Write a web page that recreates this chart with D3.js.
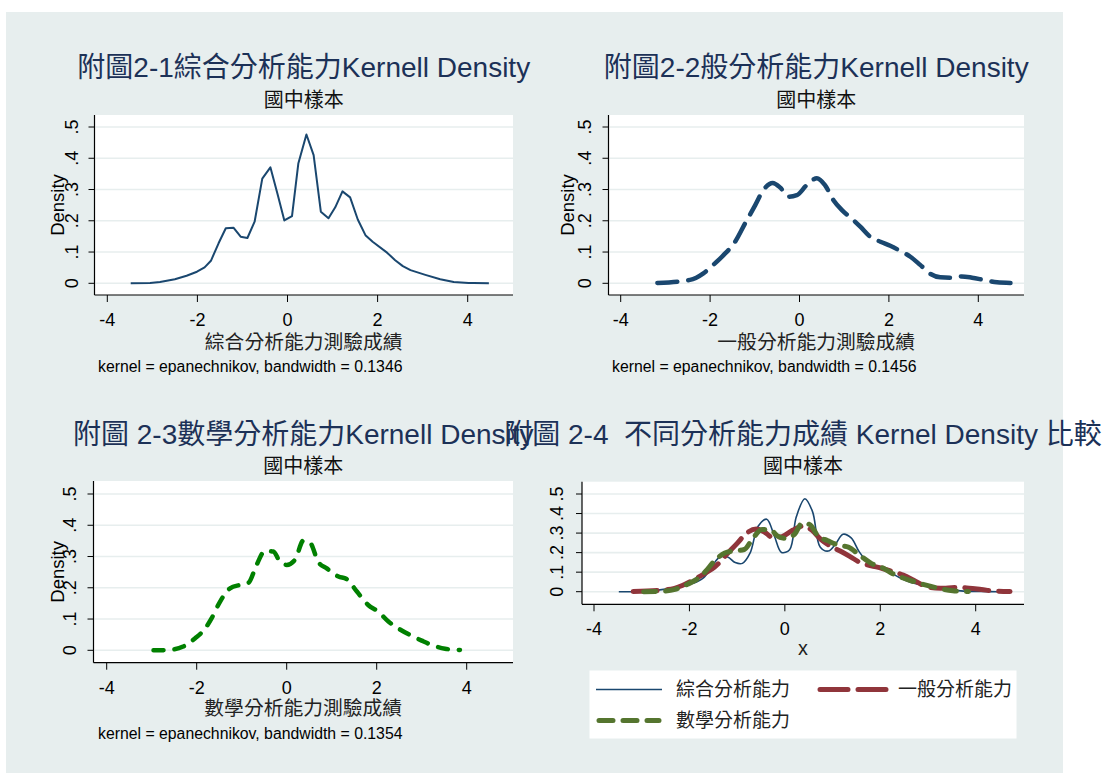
<!DOCTYPE html>
<html><head><meta charset="utf-8">
<script src="https://cdn.jsdelivr.net/npm/d3@7"></script>
<style>
html,body{margin:0;padding:0;background:#fff;}
text{font-family:"Liberation Sans","Noto Sans CJK TC",Arial,sans-serif;white-space:pre;}
</style></head>
<body>
<svg id="c" width="1104" height="773"></svg>
<script>
// ---------- data ----------
const compX = [-3.48,-3.05,-2.83,-2.50,-2.24,-2.01,-1.84,-1.70,-1.53,-1.37,-1.20,-1.04,-0.89,-0.73,-0.56,-0.38,-0.22,-0.07,0.10,0.24,0.42,0.58,0.74,0.91,1.06,1.22,1.39,1.56,1.73,1.89,2.21,2.39,2.56,2.73,3.06,3.39,3.69,4.02,4.13,4.47];
const compY = [0.000,0.001,0.004,0.013,0.024,0.037,0.051,0.072,0.128,0.176,0.178,0.149,0.145,0.197,0.335,0.371,0.285,0.201,0.215,0.383,0.476,0.410,0.229,0.208,0.243,0.294,0.275,0.204,0.154,0.133,0.098,0.074,0.055,0.042,0.027,0.013,0.004,0.001,0.001,0.000];

const genX = [-3.18,-2.45,-2.15,-1.93,-1.70,-1.44,-1.22,-0.99,-0.81,-0.60,-0.43,-0.25,-0.06,0.16,0.39,0.57,0.76,0.95,1.17,1.36,1.58,1.81,2.03,2.25,2.48,2.70,2.93,3.15,3.37,3.63,3.86,4.12,4.42,4.72];
const genY = [0.001,0.011,0.032,0.059,0.090,0.133,0.191,0.250,0.298,0.321,0.306,0.277,0.282,0.314,0.336,0.314,0.266,0.234,0.207,0.181,0.149,0.133,0.120,0.104,0.085,0.059,0.030,0.019,0.018,0.022,0.018,0.011,0.003,0.001];

const mathX = [-2.96,-2.63,-2.30,-2.04,-1.81,-1.67,-1.48,-1.26,-1.04,-0.85,-0.67,-0.48,-0.30,-0.15,0.00,0.19,0.37,0.52,0.70,0.89,1.15,1.33,1.56,1.81,2.04,2.26,2.48,2.74,3.00,3.26,3.52,3.85];
const mathY = [0.000,0.001,0.012,0.038,0.070,0.102,0.156,0.198,0.209,0.216,0.273,0.318,0.316,0.284,0.273,0.291,0.351,0.344,0.283,0.262,0.236,0.228,0.188,0.145,0.123,0.092,0.070,0.049,0.031,0.015,0.005,0.001];

const xTicks = [-4,-2,0,2,4];
const yTicks = [0,0.1,0.2,0.3,0.4,0.5];
const yTickLabels = ["0",".1",".2",".3",".4",".5"];
const seriesNames = ["綜合分析能力","一般分析能力","數學分析能力"];
const titles = ["附圖2-1綜合分析能力Kernell Density","附圖2-2般分析能力Kernell Density","附圖 2-3數學分析能力Kernell Density","附圖 2-4  不同分析能力成績 Kernel Density 比較"];
const subtitle = "國中樣本";
const xTitles = ["綜合分析能力測驗成績","一般分析能力測驗成績","數學分析能力測驗成績","x"];
const notes = ["kernel = epanechnikov, bandwidth = 0.1346","kernel = epanechnikov, bandwidth = 0.1456","kernel = epanechnikov, bandwidth = 0.1354",null];

// ---------- drawing ----------
const svg = d3.select("#c");
svg.append("rect").attr("x",6).attr("y",12).attr("width",1057).attr("height",761).attr("fill","#e7eeee");

const pts = (xs,ys)=>xs.map((x,i)=>[x,ys[i]]);
const NAVY="#1a476f", MAROON="#90353b", FGREEN="#55752f", GREEN="#008000";

function panel(o){
  const g = svg.append("g");
  const x = d3.scaleLinear().domain([-4,4]).range([o.xm4,o.x4]);
  const y = d3.scaleLinear().domain([0,0.5]).range([o.y0,o.y5]);
  g.append("rect").attr("x",o.left).attr("y",o.top).attr("width",o.right-o.left).attr("height",o.bottom-o.top).attr("fill","#fff");
  g.selectAll(".grid").data(yTicks).join("line")
    .attr("x1",o.left+1).attr("x2",o.right).attr("y1",d=>y(d)).attr("y2",d=>y(d))
    .attr("stroke","#e7eeee").attr("stroke-width",1.6);
  g.append("line").attr("x1",o.left).attr("x2",o.left).attr("y1",o.top).attr("y2",o.bottom).attr("stroke","#000").attr("stroke-width",1.2);
  g.append("line").attr("x1",o.left).attr("x2",o.right).attr("y1",o.bottom).attr("y2",o.bottom).attr("stroke","#000").attr("stroke-width",1.2);
  g.selectAll(".yt").data(yTicks).join("line")
    .attr("x1",o.left-6).attr("x2",o.left).attr("y1",d=>y(d)).attr("y2",d=>y(d)).attr("stroke","#000").attr("stroke-width",1);
  g.selectAll(".yl").data(yTicks).join("text")
    .attr("transform",d=>`translate(${o.ylx},${y(d)}) rotate(-90)`)
    .attr("text-anchor","middle").attr("dy","0.36em").attr("font-size",18).attr("fill","#000")
    .text((d,i)=>yTickLabels[i]);
  if(o.ytitle){
    g.append("text").attr("transform",`translate(${o.ytx},${(o.top+o.bottom)/2}) rotate(-90)`)
      .attr("text-anchor","middle").attr("dy","0.36em").attr("font-size",18.5).text("Density");
  }
  g.selectAll(".xt").data(xTicks).join("line")
    .attr("x1",d=>x(d)).attr("x2",d=>x(d)).attr("y1",o.bottom).attr("y2",o.bottom+7).attr("stroke","#000").attr("stroke-width",1);
  g.selectAll(".xl").data(xTicks).join("text")
    .attr("x",d=>x(d)).attr("y",o.xly).attr("text-anchor","middle").attr("dy","0.36em").attr("font-size",18)
    .text(d=>d<0?"-"+Math.abs(d):String(d));
  g.append("text").attr("x",(o.left+o.right)/2).attr("y",o.xty).attr("text-anchor","middle").attr("dy","0.36em")
    .attr("font-size",19.8).attr("fill","#222").text(o.xtitle);
  g.append("text").attr("x",(o.left+o.right)/2).attr("y",o.ty).attr("text-anchor","middle")
    .attr("font-size",28).attr("fill","#1c3157").text(o.title);
  g.append("text").attr("x",(o.left+o.right)/2).attr("y",o.sty).attr("text-anchor","middle")
    .attr("font-size",20).attr("fill","#111").text(subtitle);
  if(o.note){
    g.append("text").attr("x",o.notex).attr("y",o.notey).attr("dy","0.36em").attr("font-size",15.8).attr("fill","#000").text(o.note);
  }
  o.series.forEach(s=>{
    const line = d3.line().x(d=>x(d[0])).y(d=>y(d[1])).curve(s.curve||d3.curveLinear);
    g.append("path").attr("d",line(s.data)).attr("fill","none").attr("stroke",s.color)
      .attr("stroke-width",s.w).attr("stroke-dasharray",s.dash||null)
      .attr("stroke-linecap",s.dash?"round":"butt").attr("stroke-linejoin","round");
  });
  return g;
}

panel({left:94.5,right:513,top:115,bottom:295,xm4:107.3,x4:467.7,y0:283.3,y5:127,ylx:72,ytx:57,ytitle:true,
  xly:320,xty:342,ty:77,sty:107,title:titles[0],xtitle:xTitles[0],note:notes[0],notex:98,notey:366,
  series:[{data:pts(compX,compY),color:NAVY,w:2}]});
panel({left:608.5,right:1024,top:115,bottom:295,xm4:620.7,x4:978.3,y0:283.3,y5:127,ylx:585,ytx:567,ytitle:true,
  xly:320,xty:342,ty:77,sty:107,title:titles[1],xtitle:xTitles[1],note:notes[1],notex:612,notey:366,
  series:[{data:pts(genX,genY),color:NAVY,w:4.5,dash:"20,11",curve:d3.curveMonotoneX}]});
panel({left:93.5,right:513,top:481,bottom:662.7,xm4:106.7,x4:466.7,y0:650.3,y5:494,ylx:70,ytx:57,ytitle:true,
  xly:688,xty:708,ty:444,sty:473,title:titles[2],xtitle:xTitles[2],note:notes[2],notex:98,notey:733,
  series:[{data:pts(mathX,mathY),color:GREEN,w:4.5,dash:"10,11",curve:d3.curveMonotoneX}]});
panel({left:582,right:1024,top:481.7,bottom:604.3,xm4:594,x4:975.7,y0:591.7,y5:494,ylx:557,ytitle:false,
  xly:629,xty:648,ty:444,sty:473,title:titles[3],xtitle:xTitles[3],note:null,
  series:[{data:pts(compX,compY),color:NAVY,w:1.6,curve:d3.curveCatmullRom},
          {data:pts(genX,genY),color:MAROON,w:5,dash:"24,10",curve:d3.curveMonotoneX},
          {data:pts(mathX,mathY),color:FGREEN,w:5,dash:"12,10",curve:d3.curveMonotoneX}]});

// legend
const lg = svg.append("g");
lg.append("rect").attr("x",589.5).attr("y",670.5).attr("width",427).attr("height",68).attr("fill","#fff");
const legItems = [
  {name:seriesNames[0],color:NAVY,w:1.6,dash:null,x:596,y:689.5,len:66,tx:676},
  {name:seriesNames[1],color:MAROON,w:5,dash:"28,10",x:820,y:689.5,len:66,tx:898},
  {name:seriesNames[2],color:FGREEN,w:5,dash:"14,10",x:599,y:720.5,len:60,tx:676}
];
legItems.forEach(it=>{
  lg.append("line").attr("x1",it.x).attr("x2",it.x+it.len).attr("y1",it.y).attr("y2",it.y)
    .attr("stroke",it.color).attr("stroke-width",it.w).attr("stroke-dasharray",it.dash)
    .attr("stroke-linecap",it.dash?"round":"butt");
  lg.append("text").attr("x",it.tx).attr("y",it.y).attr("dy","0.36em")
    .attr("font-size",19).attr("fill","#222").text(it.name);
});
</script>
</body></html>
